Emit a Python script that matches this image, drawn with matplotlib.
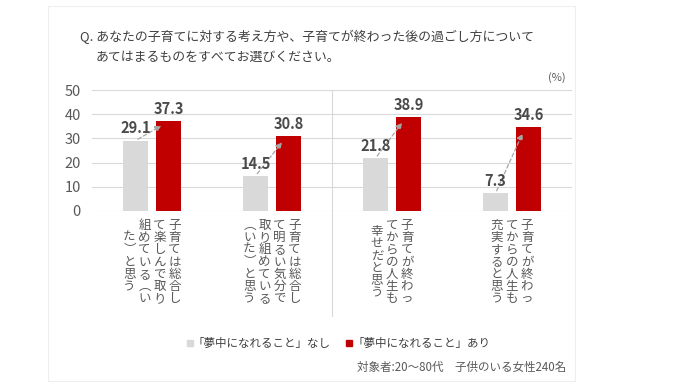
import matplotlib.pyplot as plt
from matplotlib.patches import Rectangle

plt.rcParams['font.family'] = ['Noto Sans CJK JP', 'DejaVu Sans']

# data
categories = [
    ['子育ては総合し', 'て楽しんで取り', '組めている︵い', 'た︶と思う'],
    ['子育ては総合し', 'て明るい気分で', '取り組めている', '︵いた︶と思う'],
    ['子育てが終わっ', 'てからの人生も', '幸せだと思う'],
    ['子育てが終わっ', 'てからの人生も', '充実すると思う'],
]
nashi = [29.1, 14.5, 21.8, 7.3]
ari = [37.3, 30.8, 38.9, 34.6]
series_names = ['「夢中になれること」なし', '「夢中になれること」あり']
yticks = [0, 10, 20, 30, 40, 50]

title1 = 'Q. あなたの子育てに対する考え方や、子育てが終わった後の過ごし方について'
title2 = 'あてはまるものをすべてお選びください。'
note = '対象者:20～80代　子供のいる女性240名'

gray = '#d9d9d9'
red = '#c00000'
txt = '#404040'
sub = '#595959'

fig = plt.figure(figsize=(6.97, 3.89), dpi=100)
fig.patches.append(Rectangle((48 / 697, 1 - 381 / 389), 527 / 697, 375 / 389,
                             transform=fig.transFigure, fill=False,
                             edgecolor='#eeeeee', lw=0.8))
ax = fig.add_axes([92 / 697, 1 - 211 / 389, 480 / 697, 121 / 389])

x = list(range(len(categories)))
w = 0.21
off = 0.1375
xg = [i - off for i in x]
xr = [i + off for i in x]

ax.bar(xg, nashi, w, color=gray, zorder=2)
ax.bar(xr, ari, w, color=red, zorder=2)

for i in x:
    ax.annotate(f'{nashi[i]:.1f}', (xg[i], nashi[i]), xytext=(0, 3),
                textcoords='offset points', ha='center', va='bottom',
                fontsize=10.5, fontweight='bold', color='#4a4a4a', zorder=4)
    ax.annotate(f'{ari[i]:.1f}', (xr[i], ari[i]), xytext=(0, 3),
                textcoords='offset points', ha='center', va='bottom',
                fontsize=10.5, fontweight='bold', color='#4a4a4a', zorder=4)
    ax.annotate('', xy=(xr[i] - 0.04, ari[i] - 1.5), xytext=(xg[i], nashi[i]),
                arrowprops=dict(arrowstyle='-|>', linestyle=(0, (3, 2)),
                                color='#a6a6a6', lw=0.9, mutation_scale=9),
                zorder=3)

# vertical category labels
pitch = 12.3 * 0.72
colgap = 15 * 0.72
center_y = -51 * 0.72
for i, cols in enumerate(categories):
    n = len(cols)
    for j, col in enumerate(cols):
        dx = ((n - 1) / 2 - j) * colgap
        L = len(col)
        for k, ch in enumerate(col):
            dy = center_y + ((L - 1) / 2 - k) * pitch
            ax.annotate(ch, xy=(i, 0), xycoords=('data', 'axes fraction'),
                        xytext=(dx, dy), textcoords='offset points',
                        ha='center', va='center', fontsize=9, color=sub,
                        annotation_clip=False)

ax.set_xlim(-0.5, 3.5)
ax.set_ylim(0, 50)
ax.set_yticks(yticks)
ax.set_xticks([])
ax.yaxis.grid(True, color=gray, lw=0.8, zorder=0)
ax.tick_params(axis='y', length=0, pad=8, labelsize=10.5, labelcolor=sub)
for s in ax.spines.values():
    s.set_visible(False)
ax.axvline(1.5, ymin=-0.868, ymax=1, color=gray, lw=0.8, clip_on=False)

fig.text(80 / 697, 1 - 37 / 389, title1, fontsize=9.3, color=txt, va='center')
fig.text(96 / 697, 1 - 57 / 389, title2, fontsize=9.3, color=txt, va='center')
fig.text(566 / 697, 1 - 78 / 389, '(%)', fontsize=8, color=sub, ha='right', va='center')

# legend
for px, color, name in [(190, gray, series_names[0]), (349, red, series_names[1])]:
    fig.patches.append(Rectangle(((px - 3) / 697, 1 - 346 / 389), 6 / 697, 6 / 389,
                                 transform=fig.transFigure, color=color))
    fig.text((px + 3) / 697, 1 - 343 / 389, name, fontsize=8.3, color=txt, va='center')

fig.text(566 / 697, 1 - 367 / 389, note, fontsize=8.3, color=sub, ha='right', va='center')

fig.savefig('out.png', dpi=100)
